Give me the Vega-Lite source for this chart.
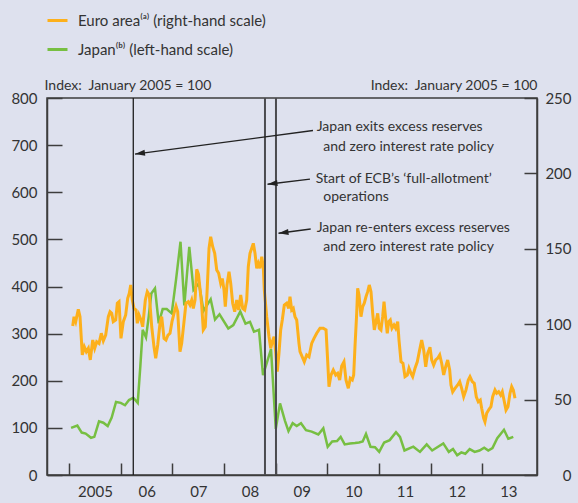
{
  "$schema": "https://vega.github.io/schema/vega-lite/v6.json",
  "width": 490,
  "height": 377,
  "autosize": {"type": "none"},
  "padding": {"left": 47, "top": 98, "right": 41, "bottom": 28},
  "background": "#dee1ee",
  "config": {
    "view": {"stroke": "#3d3d3d", "strokeWidth": 1.5},
    "font": "Lato",
    "axis": {
      "domainColor": "#3d3d3d", "domainWidth": 1.5,
      "tickColor": "#3d3d3d", "tickWidth": 1.5,
      "labelFont": "Lato", "labelFontSize": 15, "labelColor": "#333333",
      "grid": false,
      "titleFont": "Lato", "titleFontSize": 14, "titleFontWeight": "normal", "titleColor": "#333333"
    },
    "legend": {
      "labelFont": "Lato", "labelFontSize": 15, "labelColor": "#333333", "labelLimit": 0
    }
  },
  "datasets": {
    "japan": [
      {"year": 2005.040, "index": 100}, {"year": 2005.161, "index": 105}, {"year": 2005.246, "index": 90},
      {"year": 2005.323, "index": 88}, {"year": 2005.426, "index": 79}, {"year": 2005.490, "index": 81},
      {"year": 2005.581, "index": 114}, {"year": 2005.664, "index": 111}, {"year": 2005.749, "index": 104},
      {"year": 2005.826, "index": 122}, {"year": 2005.910, "index": 155}, {"year": 2006.001, "index": 153},
      {"year": 2006.084, "index": 148}, {"year": 2006.161, "index": 159}, {"year": 2006.244, "index": 164},
      {"year": 2006.330, "index": 153}, {"year": 2006.380, "index": 230}, {"year": 2006.426, "index": 308},
      {"year": 2006.490, "index": 292}, {"year": 2006.543, "index": 336}, {"year": 2006.593, "index": 385},
      {"year": 2006.664, "index": 396}, {"year": 2006.736, "index": 322}, {"year": 2006.813, "index": 352},
      {"year": 2006.891, "index": 352}, {"year": 2006.988, "index": 343}, {"year": 2007.071, "index": 414},
      {"year": 2007.158, "index": 495}, {"year": 2007.232, "index": 360}, {"year": 2007.328, "index": 484},
      {"year": 2007.410, "index": 393}, {"year": 2007.516, "index": 407}, {"year": 2007.603, "index": 348},
      {"year": 2007.742, "index": 373}, {"year": 2007.826, "index": 330}, {"year": 2007.913, "index": 341},
      {"year": 2008.083, "index": 311}, {"year": 2008.180, "index": 318}, {"year": 2008.315, "index": 347},
      {"year": 2008.416, "index": 321}, {"year": 2008.503, "index": 325}, {"year": 2008.580, "index": 304},
      {"year": 2008.677, "index": 308}, {"year": 2008.755, "index": 212}, {"year": 2008.910, "index": 267},
      {"year": 2009.002, "index": 98}, {"year": 2009.084, "index": 152}, {"year": 2009.180, "index": 115},
      {"year": 2009.248, "index": 93}, {"year": 2009.329, "index": 110}, {"year": 2009.407, "index": 104},
      {"year": 2009.490, "index": 110}, {"year": 2009.587, "index": 95}, {"year": 2009.697, "index": 92},
      {"year": 2009.825, "index": 86}, {"year": 2009.922, "index": 99}, {"year": 2010.007, "index": 60},
      {"year": 2010.094, "index": 71}, {"year": 2010.187, "index": 72}, {"year": 2010.258, "index": 81},
      {"year": 2010.336, "index": 65}, {"year": 2010.438, "index": 67}, {"year": 2010.535, "index": 68},
      {"year": 2010.613, "index": 69}, {"year": 2010.684, "index": 71}, {"year": 2010.748, "index": 87},
      {"year": 2010.835, "index": 60}, {"year": 2010.922, "index": 59}, {"year": 2011.004, "index": 49},
      {"year": 2011.100, "index": 69}, {"year": 2011.207, "index": 74}, {"year": 2011.329, "index": 91},
      {"year": 2011.406, "index": 81}, {"year": 2011.493, "index": 52}, {"year": 2011.664, "index": 60},
      {"year": 2011.793, "index": 49}, {"year": 2011.923, "index": 65}, {"year": 2012.029, "index": 52},
      {"year": 2012.244, "index": 67}, {"year": 2012.351, "index": 49}, {"year": 2012.432, "index": 55},
      {"year": 2012.513, "index": 42}, {"year": 2012.593, "index": 48}, {"year": 2012.670, "index": 45},
      {"year": 2012.755, "index": 55}, {"year": 2012.852, "index": 49}, {"year": 2012.945, "index": 52},
      {"year": 2013.036, "index": 58}, {"year": 2013.115, "index": 52}, {"year": 2013.196, "index": 57},
      {"year": 2013.289, "index": 78}, {"year": 2013.419, "index": 96}, {"year": 2013.502, "index": 77},
      {"year": 2013.599, "index": 81}
    ],
    "euro": [
      {"year": 2005.072, "index": 98.8}, {"year": 2005.097, "index": 105}, {"year": 2005.130, "index": 101.7},
      {"year": 2005.180, "index": 109.9}, {"year": 2005.213, "index": 105}, {"year": 2005.257, "index": 79.6},
      {"year": 2005.296, "index": 85}, {"year": 2005.335, "index": 81.8}, {"year": 2005.374, "index": 84},
      {"year": 2005.412, "index": 76.3}, {"year": 2005.459, "index": 89.5}, {"year": 2005.497, "index": 84},
      {"year": 2005.536, "index": 88.4}, {"year": 2005.581, "index": 87.3}, {"year": 2005.625, "index": 94},
      {"year": 2005.664, "index": 89}, {"year": 2005.710, "index": 92.8}, {"year": 2005.761, "index": 105},
      {"year": 2005.794, "index": 108.3}, {"year": 2005.826, "index": 107.2}, {"year": 2005.857, "index": 101.7},
      {"year": 2005.904, "index": 102.8}, {"year": 2005.935, "index": 113.9}, {"year": 2005.968, "index": 114.9},
      {"year": 2006.006, "index": 90.6}, {"year": 2006.051, "index": 101.7}, {"year": 2006.097, "index": 106.1},
      {"year": 2006.136, "index": 117.2}, {"year": 2006.167, "index": 120.5}, {"year": 2006.194, "index": 126},
      {"year": 2006.225, "index": 116}, {"year": 2006.258, "index": 110.5}, {"year": 2006.297, "index": 109.4},
      {"year": 2006.322, "index": 100.6}, {"year": 2006.355, "index": 106.1}, {"year": 2006.394, "index": 102.8},
      {"year": 2006.426, "index": 98.3}, {"year": 2006.477, "index": 116}, {"year": 2006.515, "index": 121.6},
      {"year": 2006.554, "index": 119.4}, {"year": 2006.601, "index": 98.3}, {"year": 2006.645, "index": 85},
      {"year": 2006.678, "index": 77.4}, {"year": 2006.717, "index": 86.2}, {"year": 2006.761, "index": 100.6},
      {"year": 2006.794, "index": 105}, {"year": 2006.839, "index": 90.6}, {"year": 2006.877, "index": 89.5},
      {"year": 2006.916, "index": 92.8}, {"year": 2006.955, "index": 94}, {"year": 2006.993, "index": 101.7},
      {"year": 2007.032, "index": 107.2}, {"year": 2007.071, "index": 112}, {"year": 2007.104, "index": 108.3},
      {"year": 2007.148, "index": 81.8}, {"year": 2007.181, "index": 87.3}, {"year": 2007.226, "index": 101.7},
      {"year": 2007.264, "index": 113.9}, {"year": 2007.309, "index": 114.9}, {"year": 2007.342, "index": 112.7},
      {"year": 2007.375, "index": 116}, {"year": 2007.406, "index": 110.5}, {"year": 2007.439, "index": 116},
      {"year": 2007.472, "index": 136.4}, {"year": 2007.506, "index": 133}, {"year": 2007.568, "index": 112.7},
      {"year": 2007.599, "index": 96.2}, {"year": 2007.638, "index": 98.3}, {"year": 2007.677, "index": 124.9},
      {"year": 2007.710, "index": 150.3}, {"year": 2007.742, "index": 158}, {"year": 2007.781, "index": 151.4},
      {"year": 2007.820, "index": 147}, {"year": 2007.859, "index": 136}, {"year": 2007.897, "index": 133.7},
      {"year": 2007.936, "index": 127.1}, {"year": 2007.967, "index": 130.4}, {"year": 2008.000, "index": 122.7},
      {"year": 2008.025, "index": 111.6}, {"year": 2008.058, "index": 126}, {"year": 2008.097, "index": 134.8},
      {"year": 2008.130, "index": 127.1}, {"year": 2008.168, "index": 113.9}, {"year": 2008.207, "index": 108.3},
      {"year": 2008.246, "index": 116}, {"year": 2008.284, "index": 109.4}, {"year": 2008.323, "index": 119.4},
      {"year": 2008.362, "index": 110.5}, {"year": 2008.401, "index": 109.4}, {"year": 2008.439, "index": 116},
      {"year": 2008.470, "index": 138.1}, {"year": 2008.503, "index": 147}, {"year": 2008.536, "index": 150.3},
      {"year": 2008.567, "index": 153.6}, {"year": 2008.600, "index": 147}, {"year": 2008.633, "index": 137.1},
      {"year": 2008.664, "index": 140.4}, {"year": 2008.697, "index": 137.1}, {"year": 2008.730, "index": 144.8},
      {"year": 2008.760, "index": 138.1}, {"year": 2008.780, "index": 122.7}, {"year": 2008.826, "index": 105},
      {"year": 2008.871, "index": 91.7}, {"year": 2008.904, "index": 84}, {"year": 2008.935, "index": 88.4},
      {"year": 2008.968, "index": 91.7}, {"year": 2009.000, "index": 81.8}, {"year": 2009.031, "index": 68.5},
      {"year": 2009.064, "index": 80.7}, {"year": 2009.097, "index": 96.2}, {"year": 2009.128, "index": 102.8},
      {"year": 2009.167, "index": 112.7}, {"year": 2009.213, "index": 113.9}, {"year": 2009.252, "index": 110.5},
      {"year": 2009.277, "index": 118.2}, {"year": 2009.310, "index": 109.4}, {"year": 2009.341, "index": 110.5},
      {"year": 2009.374, "index": 105}, {"year": 2009.407, "index": 102.8}, {"year": 2009.451, "index": 87.3},
      {"year": 2009.471, "index": 81.8}, {"year": 2009.554, "index": 75.1}, {"year": 2009.600, "index": 79.6},
      {"year": 2009.645, "index": 78.4}, {"year": 2009.697, "index": 87.3}, {"year": 2009.742, "index": 90.6},
      {"year": 2009.794, "index": 94}, {"year": 2009.858, "index": 97.3}, {"year": 2009.922, "index": 97.3},
      {"year": 2009.975, "index": 96.2}, {"year": 2010.000, "index": 80}, {"year": 2010.032, "index": 58.6},
      {"year": 2010.071, "index": 66.3}, {"year": 2010.115, "index": 69.6}, {"year": 2010.162, "index": 66.3},
      {"year": 2010.200, "index": 67.4}, {"year": 2010.239, "index": 63}, {"year": 2010.278, "index": 72.3},
      {"year": 2010.322, "index": 75.1}, {"year": 2010.361, "index": 63}, {"year": 2010.406, "index": 57.5},
      {"year": 2010.444, "index": 64.1}, {"year": 2010.483, "index": 63}, {"year": 2010.510, "index": 66.3},
      {"year": 2010.535, "index": 85}, {"year": 2010.568, "index": 107.2}, {"year": 2010.587, "index": 123.8},
      {"year": 2010.613, "index": 119.4}, {"year": 2010.651, "index": 105}, {"year": 2010.684, "index": 111.6},
      {"year": 2010.715, "index": 113.9}, {"year": 2010.748, "index": 118.2}, {"year": 2010.781, "index": 121.6},
      {"year": 2010.812, "index": 126}, {"year": 2010.845, "index": 121.6}, {"year": 2010.878, "index": 107.2},
      {"year": 2010.909, "index": 96.2}, {"year": 2010.942, "index": 101.7}, {"year": 2010.975, "index": 107.2},
      {"year": 2011.006, "index": 97.3}, {"year": 2011.038, "index": 96.2}, {"year": 2011.071, "index": 105},
      {"year": 2011.097, "index": 114.9}, {"year": 2011.129, "index": 103.9}, {"year": 2011.160, "index": 94},
      {"year": 2011.188, "index": 101.7}, {"year": 2011.218, "index": 102.8}, {"year": 2011.251, "index": 97.3},
      {"year": 2011.290, "index": 99.5}, {"year": 2011.323, "index": 97.3}, {"year": 2011.362, "index": 101.7},
      {"year": 2011.387, "index": 89.5}, {"year": 2011.426, "index": 75.1}, {"year": 2011.464, "index": 74.1},
      {"year": 2011.503, "index": 65.2}, {"year": 2011.547, "index": 66.3}, {"year": 2011.580, "index": 70.8},
      {"year": 2011.619, "index": 67.4}, {"year": 2011.652, "index": 65.2}, {"year": 2011.697, "index": 70.8},
      {"year": 2011.741, "index": 75.1}, {"year": 2011.780, "index": 81.8}, {"year": 2011.826, "index": 89.5},
      {"year": 2011.865, "index": 82.9}, {"year": 2011.904, "index": 71.8}, {"year": 2011.942, "index": 80.7},
      {"year": 2011.987, "index": 84.7}, {"year": 2012.020, "index": 76.3}, {"year": 2012.058, "index": 72.9},
      {"year": 2012.097, "index": 76.3}, {"year": 2012.136, "index": 77.4}, {"year": 2012.175, "index": 79.6},
      {"year": 2012.213, "index": 74.1}, {"year": 2012.252, "index": 66.3}, {"year": 2012.291, "index": 71.8},
      {"year": 2012.329, "index": 76.3}, {"year": 2012.368, "index": 69.6}, {"year": 2012.393, "index": 59.7},
      {"year": 2012.426, "index": 55.2}, {"year": 2012.471, "index": 57.5}, {"year": 2012.523, "index": 59.7},
      {"year": 2012.562, "index": 61.9}, {"year": 2012.600, "index": 57.5}, {"year": 2012.639, "index": 51.9},
      {"year": 2012.684, "index": 56.4}, {"year": 2012.728, "index": 63}, {"year": 2012.761, "index": 65.2},
      {"year": 2012.805, "index": 61.9}, {"year": 2012.844, "index": 60.8}, {"year": 2012.883, "index": 51.9},
      {"year": 2012.922, "index": 48.6}, {"year": 2012.960, "index": 49.7}, {"year": 2012.987, "index": 44.2},
      {"year": 2013.026, "index": 37.6}, {"year": 2013.051, "index": 35.3}, {"year": 2013.084, "index": 40.9},
      {"year": 2013.129, "index": 43.6}, {"year": 2013.167, "index": 45.3}, {"year": 2013.200, "index": 51.9},
      {"year": 2013.245, "index": 56.4}, {"year": 2013.278, "index": 54.2}, {"year": 2013.316, "index": 55.2},
      {"year": 2013.355, "index": 53}, {"year": 2013.386, "index": 55.2}, {"year": 2013.419, "index": 49.7},
      {"year": 2013.458, "index": 43.1}, {"year": 2013.496, "index": 45.3}, {"year": 2013.535, "index": 54.2},
      {"year": 2013.568, "index": 58.6}, {"year": 2013.599, "index": 56.4}, {"year": 2013.632, "index": 50.9}
    ],
    "events": [
      {"year": 2006.244, "event": "Japan exits"},
      {"year": 2008.793, "event": "ECB full allotment"},
      {"year": 2009.006, "event": "Japan re-enters"}
    ],
    "arrows": [
      {"year": 2009.722, "v": 731, "year2": 2006.277, "v2": 681},
      {"year": 2009.664, "v": 628, "year2": 2008.842, "v2": 617},
      {"year": 2009.678, "v": 522, "year2": 2009.055, "v2": 513}
    ],
    "notes": [
      {"year": 2009.794, "v": 739, "label": "Japan exits excess reserves"},
      {"year": 2009.922, "v": 697, "label": "and zero interest rate policy"},
      {"year": 2009.775, "v": 628, "label": "Start of ECB’s ‘full-allotment’"},
      {"year": 2009.922, "v": 590.6, "label": "operations"},
      {"year": 2009.794, "v": 523.5, "label": "Japan re-enters excess reserves"},
      {"year": 2009.922, "v": 483.2, "label": "and zero interest rate policy"}
    ]
  },
  "layer": [
    {
      "data": {"name": "japan"},
      "mark": {"type": "line", "strokeWidth": 2.5},
      "encoding": {
        "x": {
          "field": "year", "type": "quantitative",
          "scale": {"domain": [2004.574, 2014.058], "nice": false, "zero": false},
          "axis": {
            "orient": "bottom", "title": null,
            "values": [2005, 2006, 2007, 2008, 2009, 2010, 2011, 2012, 2013],
            "format": "d",
            "labelExpr": "datum.value == 2005 ? '2005' : substring(datum.label, 2)",
            "labelOffset": 26, "tickSize": -12, "labelPadding": 28,
            "labelBaseline": "middle", "labelFlush": false, "labelOverlap": false
          }
        },
        "y": {
          "field": "index", "type": "quantitative",
          "scale": {"domain": [0, 800], "nice": false, "zero": true},
          "axis": {
            "orient": "left",
            "values": [0, 100, 200, 300, 400, 500, 600, 700, 800],
            "tickSize": -15, "labelPadding": 25,
            "title": "Index:\u00a0 January 2005 = 100",
            "titleAngle": 0, "titleX": -3, "titleY": -13,
            "titleAlign": "left", "titleBaseline": "middle"
          }
        },
        "color": {
          "datum": "Japan⁽ᵇ⁾ (left-hand scale)", "type": "nominal",
          "scale": {
            "domain": ["Euro area⁽ᵃ⁾ (right-hand scale)", "Japan⁽ᵇ⁾ (left-hand scale)"],
            "range": ["#fdb01b", "#77bf42"]
          },
          "legend": {
            "orient": "none", "legendX": -1, "legendY": -89, "title": null,
            "symbolType": "stroke", "symbolSize": 400, "symbolStrokeWidth": 3,
            "rowPadding": 9, "padding": 0, "labelOffset": 9, "direction": "vertical",
            "labelLimit": 0
          }
        }
      }
    },
    {
      "data": {"name": "euro"},
      "mark": {"type": "line", "strokeWidth": 3},
      "encoding": {
        "x": {"field": "year", "type": "quantitative"},
        "y": {
          "field": "index", "type": "quantitative",
          "scale": {"domain": [0, 250], "nice": false, "zero": true},
          "axis": {
            "orient": "right",
            "values": [0, 50, 100, 150, 200, 250],
            "tickSize": -13, "labelPadding": 47, "labelAlign": "right",
            "title": "Index:\u00a0 January 2005 = 100",
            "titleAngle": 0, "titleX": 0, "titleY": -13,
            "titleAlign": "right", "titleBaseline": "middle"
          }
        },
        "color": {"datum": "Euro area⁽ᵃ⁾ (right-hand scale)", "type": "nominal"}
      }
    },
    {
      "layer": [
        {
          "data": {"name": "events"},
          "transform": [{"filter": "datum.event == 'Japan exits'"}],
          "mark": {"type": "rule", "color": "#1e1e1e", "strokeWidth": 1.3},
          "encoding": {"x": {"field": "year", "type": "quantitative"}}
        },
        {
          "data": {"name": "events"},
          "transform": [{"filter": "datum.event != 'Japan exits'"}],
          "mark": {"type": "rule", "color": "#4b4b4f", "strokeWidth": 2},
          "encoding": {"x": {"field": "year", "type": "quantitative"}}
        },
        {
          "data": {"name": "arrows"},
          "mark": {"type": "rule", "color": "#222222", "strokeWidth": 1.3},
          "encoding": {
            "x": {"field": "year", "type": "quantitative"},
            "x2": {"field": "year2"},
            "y": {"field": "v", "type": "quantitative", "scale": {"domain": [0, 800], "nice": false}, "axis": null},
            "y2": {"field": "v2"}
          }
        },
        {
          "data": {"name": "arrows"},
          "mark": {"type": "point", "shape": "M0,0L2.5,-0.75L2.5,0.75Z", "filled": true, "color": "#222222", "opacity": 1, "size": 64, "angle": -7.4},
          "encoding": {
            "x": {"field": "year2", "type": "quantitative"},
            "y": {"field": "v2", "type": "quantitative", "axis": null}
          }
        },
        {
          "data": {"name": "notes"},
          "mark": {"type": "text", "align": "left", "baseline": "middle", "font": "Lato", "fontSize": 14, "color": "#333333"},
          "encoding": {
            "x": {"field": "year", "type": "quantitative"},
            "y": {"field": "v", "type": "quantitative", "axis": null},
            "text": {"field": "label"}
          }
        }
      ]
    }
  ],
  "resolve": {"scale": {"y": "independent"}, "axis": {"y": "independent"}}
}
